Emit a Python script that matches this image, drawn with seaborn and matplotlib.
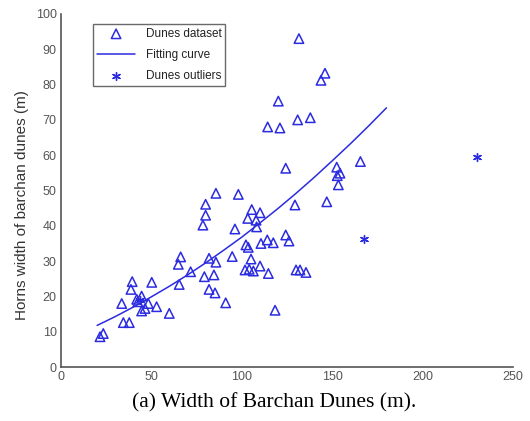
import matplotlib
matplotlib.use("Agg")
import matplotlib.pyplot as plt
import seaborn as sns
import pandas as pd

# ---- data ----
width_m = [21.6, 23.4, 34.5, 37.8, 33.6, 38.7, 39.4, 41.9, 44.6, 42.5, 48.3, 52.9,
           44.6, 46.5, 50.2, 59.9, 64.9, 66.2, 65.4, 71.7, 79.3, 84.6, 81.9, 85.2,
           91.1, 81.9, 85.7, 94.7, 78.5, 80.0, 80.0, 85.7, 98.1, 96.2, 102.3, 103.6,
           101.8, 104.1, 106.4, 105.1, 105.5, 110.1, 103.3, 107.9, 108.2, 110.6, 114.1,
           117.4, 124.3, 126.1, 110.1, 114.7, 130.0, 132.2, 135.5, 118.4, 124.3, 129.4,
           147.0, 152.5, 154.3, 152.8, 153.4, 165.6, 131.6, 120.2, 143.8, 146.0, 130.9,
           137.9, 114.3, 121.1]
horns_m = [8.6, 9.5, 12.6, 12.6, 18.0, 22.0, 24.2, 19.2, 20.1, 18.5, 18.0, 17.1,
           15.9, 16.6, 24.0, 15.2, 29.1, 31.2, 23.4, 27.0, 25.6, 26.1, 22.0, 21.0,
           18.2, 30.8, 29.7, 31.3, 40.2, 43.0, 46.1, 49.2, 48.9, 39.1, 34.6, 33.9,
           27.5, 27.7, 27.2, 30.6, 44.6, 43.7, 42.1, 41.6, 39.7, 35.0, 36.0,
           35.2, 37.4, 35.7, 28.6, 26.5, 27.5, 27.5, 26.8, 16.1, 56.3, 45.9,
           46.8, 56.6, 54.9, 54.2, 51.6, 58.2, 93.0, 75.3, 81.2, 83.2, 70.0,
           70.6, 68.0, 67.7]

outlier_width = [230.3, 167.8, 43.7]
outlier_horns = [59.6, 36.3, 19.0]

curve_x = [20, 30, 40, 50, 60, 70, 80, 90, 100, 110, 120, 130, 140, 150, 160, 170, 180]
curve_y = [11.8, 14.3, 17.0, 19.9, 22.9, 26.1, 29.5, 33.1, 36.8, 40.8, 44.9,
           49.2, 53.7, 58.4, 63.2, 68.2, 73.4]

x_ticks = [0, 50, 100, 150, 200, 250]
y_ticks = [0, 10, 20, 30, 40, 50, 60, 70, 80, 90, 100]

x_label = ""
y_label = "Horns width of barchan dunes (m)"
caption = "(a) Width of Barchan Dunes (m)."

# ---- plotting ----
sns.set_theme(style="white")
plt.rcParams['font.family'] = ['Liberation Sans', 'DejaVu Sans']

blue = "#2b2be0"
fig = plt.figure(figsize=(5.30, 4.21), dpi=100)
ax = fig.add_axes([0.115, 0.128, 0.853, 0.839])

df = pd.DataFrame({"w": width_m, "h": horns_m})
dfo = pd.DataFrame({"w": outlier_width, "h": outlier_horns})
dfc = pd.DataFrame({"x": curve_x, "y": curve_y})

sns.scatterplot(data=df, x="w", y="h", ax=ax, marker="^", s=46,
                facecolor="none", edgecolor=blue, linewidth=1.1,
                label="Dunes dataset", zorder=3)
sns.lineplot(data=dfc, x="x", y="y", ax=ax, color=blue, linewidth=1.1,
             label="Fitting curve", zorder=2)
sns.scatterplot(data=dfo, x="w", y="h", ax=ax, marker=(6, 2, 0), s=32,
                color=blue, edgecolor=blue, linewidth=1.0,
                label="Dunes outliers", zorder=3)

ax.set_xlim(0, 250)
ax.set_ylim(0, 100)
ax.set_xticks(x_ticks)
ax.set_yticks(y_ticks)
ax.set_xlabel(x_label)
ax.set_ylabel(y_label, fontsize=11, color="#333333")
ax.yaxis.set_label_coords(-0.07, 0.46)

for s in ["top", "right"]:
    ax.spines[s].set_visible(False)
for s in ["left", "bottom"]:
    ax.spines[s].set_color("#555555")
    ax.spines[s].set_linewidth(1.2)
ax.tick_params(axis="both", direction="in", length=3, width=1, color="#555555",
               labelsize=9, labelcolor="#555555", pad=3)

leg = ax.legend(loc="upper left", bbox_to_anchor=(0.071, 0.972), fontsize=8.5,
                frameon=True, fancybox=False, borderpad=0.35, labelspacing=0.75,
                handlelength=3.2, handletextpad=0.9, borderaxespad=0)
leg.get_frame().set_edgecolor("#444444")
leg.get_frame().set_linewidth(1.0)
for t in leg.get_texts():
    t.set_color("#222222")

fig.text(0.517, 0.043, caption, ha="center", va="center", fontsize=15.5,
         family="Liberation Serif", color="black")

fig.savefig("out.png", dpi=100)
